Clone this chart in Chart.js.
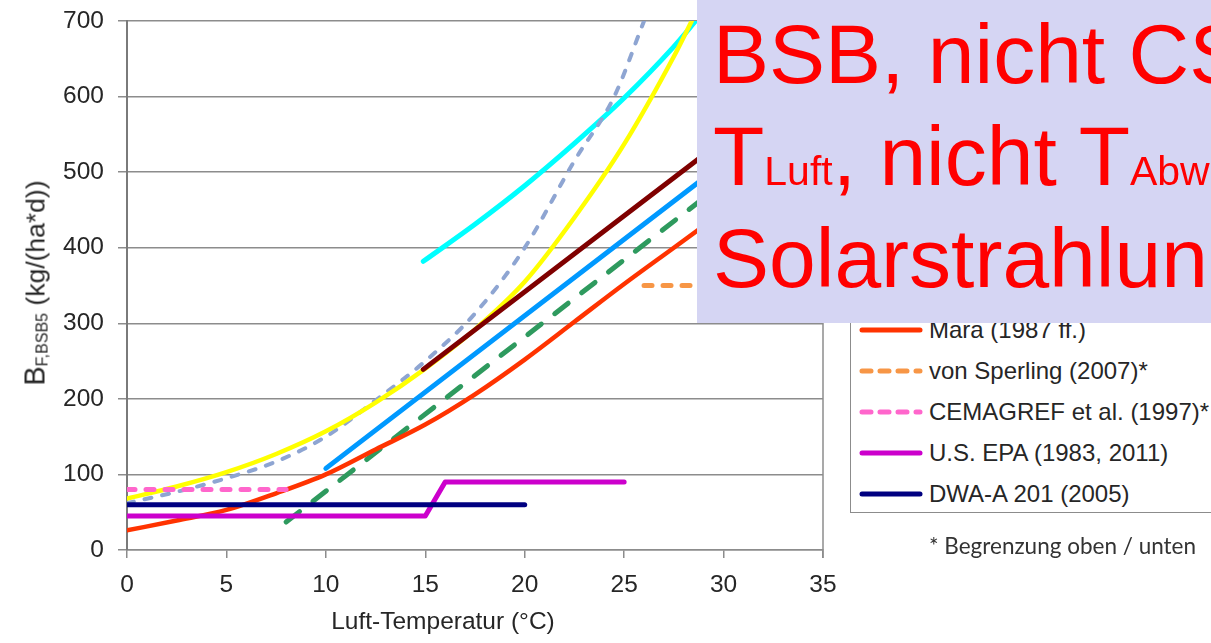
<!DOCTYPE html>
<html>
<head>
<meta charset="utf-8">
<script src="https://cdn.jsdelivr.net/npm/chart.js@4.4.1/dist/chart.umd.min.js"></script>
<style>
  body { margin: 0; background: #fff; width: 1211px; height: 643px; overflow: hidden; font-family: "Liberation Sans", Arial, sans-serif; }
  #wrap { position: absolute; left: 0; top: 0; width: 1211px; height: 643px; }
  .ytitle { position: absolute; left: 35px; top: 283px; white-space: nowrap; color: #262626; font-size: 26.5px;
            transform: translate(-50%, -50%) rotate(-90deg); }
  .ytitle .b { font-size: 29px; }
  .ytitle sub { font-size: 16px; vertical-align: -3px; }
  .xtitle { position: absolute; left: 443px; top: 633px; transform: translate(-50%, -100%); white-space: nowrap;
            color: #262626; font-size: 24.5px; line-height: 1; }
  #legend { position: absolute; left: 850px; top: 60px; width: 420px; height: 451px; border: 1.5px solid #8c8c8c;
            border-right: none; background: #fff; }
  .item { position: absolute; left: 8px; height: 30px; white-space: nowrap; }
  .item svg { position: absolute; left: 0; top: 0; }
  .item span { position: absolute; left: 70px; top: 0; font-size: 24px; line-height: 30px; color: #262626; }
  .note { position: absolute; left: 929px; top: 532px; font-family: Lato, "Open Sans", sans-serif; font-size: 22.5px;
          color: #333; white-space: nowrap; }
  #overlay { position: absolute; left: 697px; top: 0; width: 514px; height: 323px; background: rgb(213, 213, 243);
             overflow: hidden; color: #ff0000; font-size: 84px; }
  #overlay div { position: absolute; left: 16px; line-height: 84px; white-space: nowrap; }
  #overlay .s { font-size: 41px; }
</style>
</head>
<body>
<div id="wrap"><canvas id="c"></canvas></div>
<div class="ytitle"><span class="b">B</span><sub>F,BSB5</sub> (kg/(ha*d))</div>
<div class="xtitle">Luft-Temperatur (°C)</div>
<div id="legend"></div>
<div class="note">* Begrenzung oben / unten</div>
<div id="overlay">
  <div style="top:12px">BSB, nicht CSB</div>
  <div style="top:114px">T<span class="s">Luft</span>, nicht T<span class="s">Abwasser</span></div>
  <div style="top:216px">Solarstrahlung</div>
</div>
<script>
// Luft-Temperatur (°C) / Flächenbelastung B (kg/(ha*d))
const xTicks = [0, 5, 10, 15, 20, 25, 30, 35];
const yTicks = [0, 100, 200, 300, 400, 500, 600, 700];

const cyanT = [14.9, 17.5, 20, 22.5, 25, 27.5, 28.6];
const cyanB = [382, 431, 482, 538, 598, 666, 700];

const greyDashT = [0, 2.5, 5, 7.5, 10, 12.5, 15, 17.5, 20, 22.5, 24.5, 26];
const greyDashB = [62, 77, 95, 117, 150, 198, 250, 313, 400, 515, 600, 700];

const yellowT = [0, 2.5, 5, 7.5, 10, 12.5, 15, 17.5, 20, 22.5, 25, 27.5, 28.4];
const yellowB = [68, 84, 103, 127, 157, 195, 240, 292, 355, 440, 537, 653, 700];

const maroonT = [14.9, 30];
const maroonB = [239, 543];

const blueT = [10, 30];
const blueB = [108, 512];

const greenT = [8, 30];
const greenB = [37, 486];

const maraT = [0, 2.5, 5, 7.5, 10, 12.5, 15, 17.5, 20, 22.5, 25, 27.5, 30];
const maraB = [26, 39, 53, 75, 100, 133, 166, 206, 252, 302, 352, 400, 448];

const sperlingT = [26, 35];
const sperlingB = [350, 350];

const cemagrefT = [0, 8];
const cemagrefB = [80, 80];

const epaT = [0, 15, 16, 25];
const epaB = [45, 45, 90, 90];

const dwaT = [0, 20];
const dwaB = [60, 60];

function pts(t, b) { return t.map((v, i) => ({ x: v, y: b[i] })); }

function series(label, t, b, color, width, dash, curve) {
  return {
    label: label,
    data: pts(t, b),
    borderColor: color,
    borderWidth: width,
    borderDash: dash || [],
    borderCapStyle: 'round',
    borderJoinStyle: 'round',
    pointRadius: 0,
    fill: false,
    cubicInterpolationMode: curve ? 'monotone' : 'default',
    tension: 0
  };
}

// first in the list is drawn on top
const datasets = [
  series('DWA-A 201 (2005)', dwaT, dwaB, '#000080', 5),
  series('U.S. EPA (1983, 2011)', epaT, epaB, '#cc00cc', 5),
  series('CEMAGREF et al. (1997)*', cemagrefT, cemagrefB, '#ff66cc', 5, [8, 11]),
  series('von Sperling (2007)*', sperlingT, sperlingB, '#f79646', 5, [8, 11]),
  series('Mara (1987 ff.)', maraT, maraB, '#ff3300', 4.5, null, true),
  series('', greenT, greenB, '#2e9a5e', 5, [17, 17]),
  series('', blueT, blueB, '#0099ff', 5),
  series('', maroonT, maroonB, '#7f0000', 5),
  series('', yellowT, yellowB, '#ffff00', 4.5, null, true),
  series('', greyDashT, greyDashB, '#8ea5d2', 4, [7, 11], true),
  series('', cyanT, cyanB, '#00ffff', 5, null, true)
];

const frame = {
  id: 'frame',
  afterDatasetsDraw(chart) {
    const a = chart.chartArea, ctx = chart.ctx;
    ctx.save();
    ctx.strokeStyle = '#8c8c8c';
    ctx.lineWidth = 1.5;
    ctx.beginPath();
    ctx.moveTo(a.right, a.top);
    ctx.lineTo(a.right, a.bottom + 8);
    ctx.stroke();
    ctx.restore();
  }
};

new Chart(document.getElementById('c'), {
  type: 'line',
  data: { datasets: datasets },
  plugins: [frame],
  options: {
    responsive: true,
    maintainAspectRatio: false,
    animation: false,
    layout: { padding: { left: 0, right: 388, top: 21, bottom: 0 } },
    plugins: { legend: { display: false }, tooltip: { enabled: false } },
    scales: {
      x: {
        type: 'linear',
        min: 0,
        max: 35,
        afterBuildTicks(scale) { scale.ticks = xTicks.map(v => ({ value: v })); },
        afterFit(scale) { scale.height = 93; scale.paddingLeft = 0; scale.paddingRight = 0; },
        ticks: { color: '#262626', padding: 13, font: { family: 'Liberation Sans', size: 24.5 } },
        grid: { drawOnChartArea: false, drawTicks: true, tickLength: 8, color: '#8c8c8c', lineWidth: 1.5 },
        border: { display: true, color: '#8c8c8c', width: 1.5 }
      },
      y: {
        min: 0,
        max: 700,
        afterBuildTicks(scale) { scale.ticks = yTicks.map(v => ({ value: v })); },
        afterFit(scale) { scale.width = 127; scale.paddingTop = 0; scale.paddingBottom = 0; },
        ticks: { color: '#262626', padding: 14, font: { family: 'Liberation Sans', size: 24.5 } },
        grid: { color: '#8c8c8c', lineWidth: 1.5, tickLength: 9 },
        border: { display: true, color: '#7a7a7a', width: 2 }
      }
    }
  }
});

// legend (only the part below the overlay is visible)
const legendItems = [
  { label: 'Mara (1987 ff.)', color: '#ff3300', dash: '' },
  { label: 'von Sperling (2007)*', color: '#f79646', dash: '9 9' },
  { label: 'CEMAGREF et al. (1997)*', color: '#ff66cc', dash: '9 9' },
  { label: 'U.S. EPA (1983, 2011)', color: '#cc00cc', dash: '' },
  { label: 'DWA-A 201 (2005)', color: '#000080', dash: '' }
];
const legend = document.getElementById('legend');
legendItems.forEach((it, i) => {
  const d = document.createElement('div');
  d.className = 'item';
  d.style.top = (329 - 60 - 15 + i * 41) + 'px';
  d.innerHTML = '<svg width="66" height="30"><line x1="3" y1="15" x2="61" y2="15" stroke="' + it.color +
    '" stroke-width="5" stroke-linecap="round" stroke-dasharray="' + it.dash + '"/></svg><span>' + it.label + '</span>';
  legend.appendChild(d);
});
</script>
</body>
</html>
